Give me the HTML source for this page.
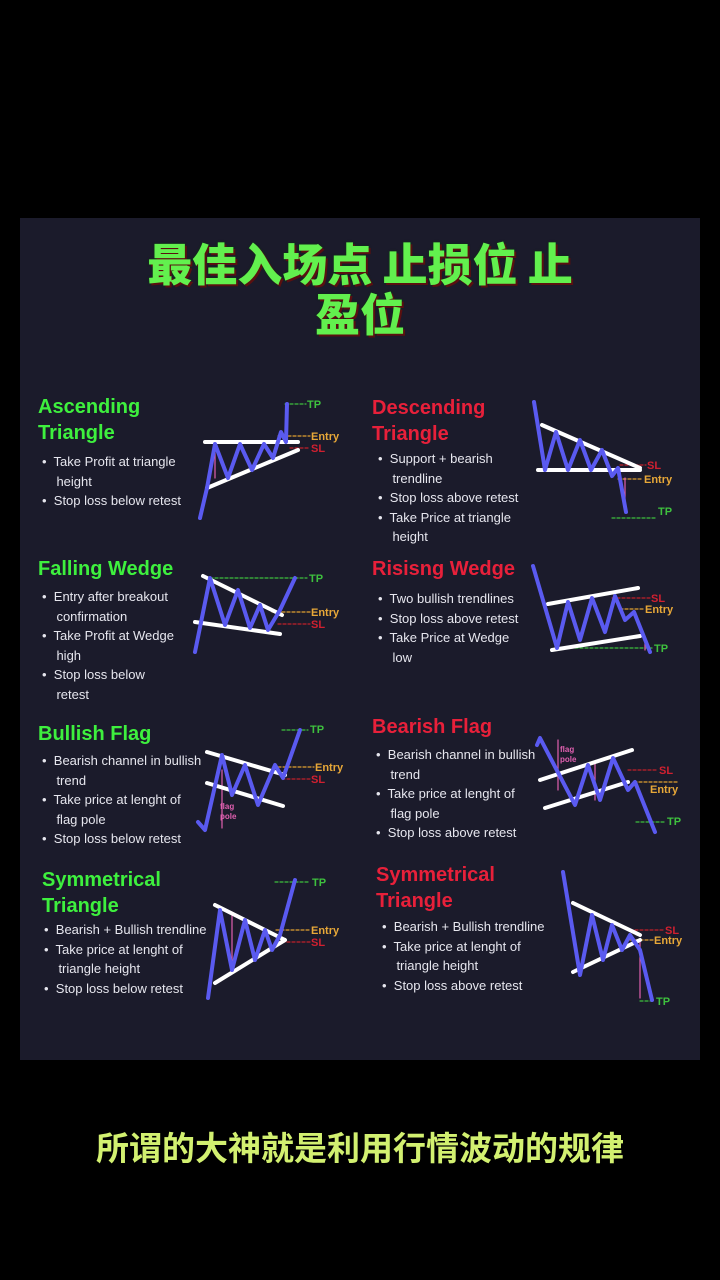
<!DOCTYPE html>
<html><head><meta charset="utf-8"><style>
body{margin:0;width:720px;height:1280px;background:#000;position:relative;overflow:hidden;font-family:"Liberation Sans","Noto Sans CJK SC",sans-serif}
.panel{position:absolute;left:20px;top:218px;width:680px;height:842px;background:#1b1b2b}
.t{position:absolute;white-space:nowrap}
.h{font-weight:bold;font-size:20px;line-height:26px}
.g{color:#3ef03e}.r{color:#e8203a}
.b{font-size:13px;color:#e6e6ee;line-height:19.5px}
.cj{position:absolute;left:0;width:720px;text-align:center;font-family:"Noto Sans CJK SC",sans-serif;font-weight:900;font-size:45px;line-height:50px;color:#62f04e;text-shadow:2px 2px 0 #5a1010,0 0 2px #0a3a0a}
.sub{position:absolute;left:0;width:720px;text-align:center;top:1122px;font-family:"Noto Sans CJK SC",sans-serif;font-weight:700;font-size:33px;color:#d2f070;text-shadow:1px 1px 1px #000,-1px -1px 1px #000}
</style></head><body>
<div class="panel"></div>
<div class="cj" style="top:237px">最佳入场点 止损位 止</div>
<div class="cj" style="top:287px">盈位</div>

<div class="t h g" style="left:38px;top:394px">Ascending<br>Triangle</div>
<div class="t b" style="left:42px;top:452px">•&nbsp; Take Profit at triangle<br>&nbsp;&nbsp;&nbsp;&nbsp;height<br>•&nbsp; Stop loss below retest</div>

<div class="t h g" style="left:38px;top:556px">Falling Wedge</div>
<div class="t b" style="left:42px;top:587px">•&nbsp; Entry after breakout<br>&nbsp;&nbsp;&nbsp;&nbsp;confirmation<br>•&nbsp; Take Profit at Wedge<br>&nbsp;&nbsp;&nbsp;&nbsp;high<br>•&nbsp; Stop loss below<br>&nbsp;&nbsp;&nbsp;&nbsp;retest</div>

<div class="t h g" style="left:38px;top:721px">Bullish Flag</div>
<div class="t b" style="left:42px;top:751px">•&nbsp; Bearish channel in bullish<br>&nbsp;&nbsp;&nbsp;&nbsp;trend<br>•&nbsp; Take price at lenght of<br>&nbsp;&nbsp;&nbsp;&nbsp;flag pole<br>•&nbsp; Stop loss below retest</div>

<div class="t h g" style="left:42px;top:867px">Symmetrical<br>Triangle</div>
<div class="t b" style="left:44px;top:920px">•&nbsp; Bearish + Bullish trendline<br>•&nbsp; Take price at lenght of<br>&nbsp;&nbsp;&nbsp;&nbsp;triangle height<br>•&nbsp; Stop loss below retest</div>

<div class="t h r" style="left:372px;top:395px">Descending<br>Triangle</div>
<div class="t b" style="left:378px;top:449px">•&nbsp; Support + bearish<br>&nbsp;&nbsp;&nbsp;&nbsp;trendline<br>•&nbsp; Stop loss above retest<br>•&nbsp; Take Price at triangle<br>&nbsp;&nbsp;&nbsp;&nbsp;height</div>

<div class="t h r" style="left:372px;top:556px">Risisng Wedge</div>
<div class="t b" style="left:378px;top:589px">•&nbsp; Two bullish trendlines<br>•&nbsp; Stop loss above retest<br>•&nbsp; Take Price at Wedge<br>&nbsp;&nbsp;&nbsp;&nbsp;low</div>

<div class="t h r" style="left:372px;top:714px">Bearish Flag</div>
<div class="t b" style="left:376px;top:745px">•&nbsp; Bearish channel in bullish<br>&nbsp;&nbsp;&nbsp;&nbsp;trend<br>•&nbsp; Take price at lenght of<br>&nbsp;&nbsp;&nbsp;&nbsp;flag pole<br>•&nbsp; Stop loss above retest</div>

<div class="t h r" style="left:376px;top:862px">Symmetrical<br>Triangle</div>
<div class="t b" style="left:382px;top:917px">•&nbsp; Bearish + Bullish trendline<br>•&nbsp; Take price at lenght of<br>&nbsp;&nbsp;&nbsp;&nbsp;triangle height<br>•&nbsp; Stop loss above retest</div>

<svg width="720" height="1280" style="position:absolute;left:0;top:0" font-family="Liberation Sans" font-weight="bold" font-size="11">
<g fill="none" stroke-linecap="round" stroke-linejoin="round">
<g stroke-width="1.2" stroke-dasharray="3,2">
<path d="M285 404H306M612 518H656M210 578H307M555 648H652M282 730H308M636 822H665M275 882H310M640 1001H654" stroke="#3ec03e"/>
<path d="M278 436H310M618 479H643M272 612H310M620 609H644M278 767H314M634 782H677M276 930H310M630 940H654" stroke="#e0a030"/>
<path d="M290 448H310M620 465H646M278 624H310M612 598H650M282 779H310M628 770H658M282 942H310M630 930H664" stroke="#c0202a"/>
</g>
<g stroke="#e060b0" stroke-width="1.2">
<path d="M215 446V478M286 408V438M625 478V510M222 770V828M595 762V800M558 740V790M232 912V970M640 942V998M645 640V650"/>
</g>
<g stroke="#fff" stroke-width="4">
<path d="M205 442H298M207 488L298 450"/>
<path d="M538 470H640M542 425L640 468"/>
<path d="M203 576L282 615M195 622L280 634"/>
<path d="M552 650L640 636M548 604L638 588"/>
<path d="M207 752L285 775M207 783L283 806"/>
<path d="M540 780L632 750M545 808L628 782"/>
<path d="M215 905L285 940M215 983L285 940"/>
<path d="M573 903L640 935M573 972L640 940"/>
</g>
<g stroke="#5a5af0" stroke-width="4">
<path d="M200 518L207 488L215 444L228 478L240 444L252 470L264 444L273 458L281 432L286 442L287 404"/>
<path d="M534 402L545 470L556 432L568 470L580 440L591 470L602 450L612 476L618 468L626 512"/>
<path d="M195 652L210 578L225 625L238 590L250 628L260 605L268 630L280 610L295 578"/>
<path d="M533 566L557 648L568 602L580 640L592 598L605 632L615 596L625 620L634 612L650 652"/>
<path d="M198 822L205 830L222 755L232 795L245 765L258 805L275 765L283 778L300 730"/>
<path d="M537 745L540 738L575 805L588 765L600 800L613 758L628 790L635 782L655 832"/>
<path d="M208 998L220 910L232 970L245 920L255 960L265 930L272 950L280 935L295 880"/>
<path d="M563 872L580 975L592 915L603 960L612 925L622 950L630 935L640 950L652 1000"/>
</g>
</g>
<g fill="#3ec03e"><text x="307" y="408">TP</text><text x="658" y="515">TP</text><text x="309" y="582">TP</text><text x="654" y="652">TP</text><text x="310" y="733">TP</text><text x="667" y="825">TP</text><text x="312" y="886">TP</text><text x="656" y="1005">TP</text></g>
<g fill="#e8a838"><text x="311" y="440">Entry</text><text x="644" y="483">Entry</text><text x="311" y="616">Entry</text><text x="645" y="613">Entry</text><text x="315" y="771">Entry</text><text x="650" y="793">Entry</text><text x="311" y="934">Entry</text><text x="654" y="944">Entry</text></g>
<g fill="#d02030"><text x="311" y="452">SL</text><text x="647" y="469">SL</text><text x="311" y="628">SL</text><text x="651" y="602">SL</text><text x="311" y="783">SL</text><text x="659" y="774">SL</text><text x="311" y="946">SL</text><text x="665" y="934">SL</text></g>
<g fill="#e060b0" font-size="8"><text x="220" y="809">flag</text><text x="220" y="819">pole</text><text x="560" y="752">flag</text><text x="560" y="762">pole</text></g>
</svg>
<div class="sub">所谓的大神就是利用行情波动的规律</div>
</body></html>
